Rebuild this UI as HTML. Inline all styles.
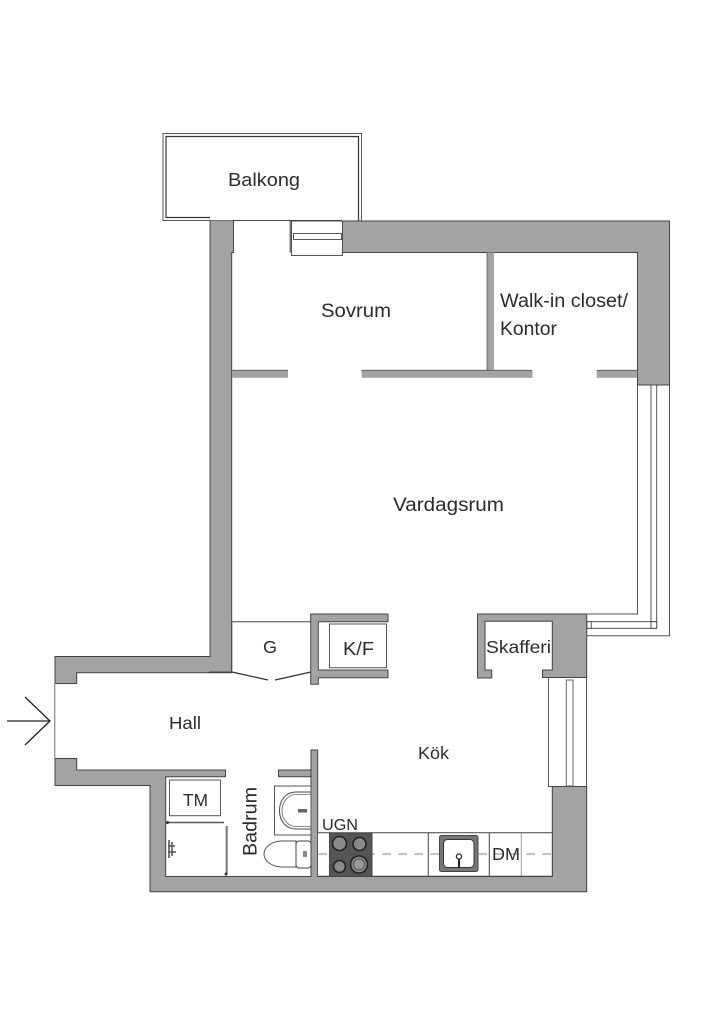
<!DOCTYPE html>
<html><head><meta charset="utf-8"><style>html,body{margin:0;padding:0;background:#fff}svg{display:block}text{font-family:"Liberation Sans",sans-serif;fill:#2c2c2c}</style></head><body>
<svg xmlns="http://www.w3.org/2000/svg" width="724" height="1024" viewBox="0 0 724 1024">
<rect width="724" height="1024" fill="#fff"/>
<!-- balcony -->
<path d="M210 220.5H163V133.5H361.5V221" fill="none" stroke="#555" stroke-width="1"/>
<path d="M210 217.5H166V136.5H358.5V221" fill="none" stroke="#333" stroke-width="1.2"/>
<path d="M210 220.5H342" fill="none" stroke="#444" stroke-width="1"/>
<!-- walls -->
<g fill="#a3a3a3" stroke="#444" stroke-width="1">
<path d="M210 220.5H233.5V252H231.7V672H209.5V656.5H55V683.5H76.7V672.7H209.5V656.5H210Z" stroke="none"/>
<path d="M210 220.5V656.5H55V683.5H76.7V672.7H231.7V252.5H233.5V220.5"/>
<path d="M342.5 221H669.5V385H637.5V252.5H342.5Z"/>
<path d="M55 758.5H76.7V770H225.5V776.7H165.7V876.5H311V750H317.7V876.5H552.3V786.5H586.7V891.7H150V785.5H55Z"/>
<path d="M278.5 770H311V776.7H278.5Z"/>
<path d="M477.5 614H586.7V677.5H542.5V670H552.3V621.3H485V670H491.7V678H477.5Z"/>
<path d="M310.7 614H388V621.7H318.3V670H388V677.7H318.3V684.3H310.7Z"/>
</g>
<rect x="211" y="221" width="20" height="451" fill="#a3a3a3"/>
<path d="M231.7 621V672H209" fill="none" stroke="#444"/>
<!-- partitions -->
<g fill="#a3a3a3" stroke="none">
<rect x="232" y="370.3" width="56" height="7.5"/>
<rect x="361.5" y="370.3" width="171" height="7.5"/>
<rect x="596.7" y="370.3" width="40.5" height="7.5"/>
<rect x="487" y="252.5" width="7" height="118"/>
</g>
<path d="M487 253V370M232 370.3H288M361.5 370.3H532M597 370.3H637" stroke="#555" stroke-width="0.8" fill="none"/>
<!-- top window -->
<rect x="289.5" y="221" width="2.5" height="31.5" fill="#777"/>
<rect x="291.5" y="221" width="51" height="34.5" fill="#fff" stroke="#444" stroke-width="0.9"/>
<rect x="293.5" y="233.5" width="48" height="6" fill="#fff" stroke="#444" stroke-width="0.9"/>
<!-- right window -->
<path d="M637.5 385V614H586.7M669.5 385V635.7H586.7" fill="none" stroke="#555" stroke-width="1"/>
<rect x="651" y="385" width="5.7" height="243" fill="#fff" stroke="#444" stroke-width="0.9"/>
<rect x="587" y="621.7" width="69.7" height="6.6" fill="#fff" stroke="#444" stroke-width="0.9"/>
<rect x="651" y="621.7" width="5.7" height="6.6" fill="#fff" stroke="#444" stroke-width="0.9"/>
<rect x="587" y="621.7" width="4.2" height="6.6" fill="#fff" stroke="#444" stroke-width="0.9"/>
<!-- kitchen window -->
<path d="M548.5 677.5V786.5H552.3M586.5 677.5V786.5" fill="none" stroke="#555" stroke-width="1"/>
<rect x="566.3" y="680" width="6.7" height="106" fill="#fff" stroke="#555" stroke-width="0.9"/>
<!-- closet -->
<path d="M232 621.7H311" stroke="#444" stroke-width="1"/>
<path d="M232 672L268 680M275 680L311 672" stroke="#333" stroke-width="1.2" fill="none"/>
<rect x="329.5" y="624" width="57" height="43.7" fill="#fff" stroke="#555" stroke-width="1"/>
<!-- entrance -->
<path d="M54.7 683V758.5" stroke="#888" stroke-width="1.2"/>
<path d="M7 721H50M25 697L50 721L25 745" stroke="#222" stroke-width="1.3" fill="none"/>
<!-- bath -->
<rect x="169.5" y="780" width="51" height="35.7" fill="#fff" stroke="#555" stroke-width="1"/>
<path d="M167 822.5H224" stroke="#555" stroke-width="1.6"/>
<path d="M226.7 826V874" stroke="#777" stroke-width="2"/>
<circle cx="167.5" cy="822.5" r="1.5" fill="#333"/><circle cx="226" cy="874" r="1.5" fill="#333"/>
<path d="M169 840V858M172 842V856M168 846H175M168 852H176" stroke="#555" stroke-width="1.6" fill="none"/>
<rect x="274.5" y="786" width="36.5" height="49" fill="#fff" stroke="#555" stroke-width="1"/>
<path d="M310.5 792H296C286 792 279.5 800 279.5 810.5S286 829 296 829H310.5" fill="#fff" stroke="#444" stroke-width="1"/>
<path d="M310.5 794.5H296C288 794.5 282 802 282 810.5S288 826.5 296 826.5H310.5" fill="none" stroke="#666" stroke-width="0.8"/>
<rect x="298" y="809" width="9" height="3.5" fill="#666"/>
<path d="M296 841H282C272 841 264 847 264 854S272 867 282 867H296Z" fill="#fff" stroke="#555" stroke-width="1"/>
<rect x="296" y="841" width="15" height="27" rx="3" fill="#fff" stroke="#444" stroke-width="1"/>
<rect x="303" y="851" width="4" height="6" fill="#888"/>
<!-- kitchen -->
<rect x="318" y="833" width="234" height="43.2" fill="#fff"/>
<path d="M317.7 832.7H552.3V876.2" stroke="#444" stroke-width="1" fill="none"/>
<path d="M318 854H552" stroke="#888" stroke-width="1" stroke-dasharray="9 7" fill="none"/>
<path d="M428.3 833V876M489.3 833V876" stroke="#444" stroke-width="1"/>
<path d="M521.3 833V876" stroke="#999" stroke-width="1"/>
<path d="M318 876.3H552.3" stroke="#444" stroke-width="1"/>
<rect x="329.5" y="833" width="42.5" height="43.5" fill="#555" stroke="#444"/>
<g stroke="#222" stroke-width="1.6" fill="#8a8a8a">
<circle cx="339.5" cy="843.5" r="7"/><circle cx="359.5" cy="844" r="6.5"/><circle cx="339.5" cy="866.5" r="6"/><circle cx="359" cy="864.5" r="8.5"/>
</g>
<circle cx="359" cy="864.5" r="5.5" fill="#999" stroke="#555"/>
<rect x="439.5" y="835.5" width="38.5" height="36" rx="2" fill="#777" stroke="#444"/>
<rect x="443.5" y="839.5" width="30.5" height="28" rx="4" fill="#fff" stroke="#333" stroke-width="1"/>
<path d="M459 856V868" stroke="#222" stroke-width="2"/>
<circle cx="459" cy="856.5" r="2.6" fill="#fff" stroke="#222" stroke-width="1.3"/>
<!-- labels -->
<text x="228" y="186" font-size="18.5" textLength="72" lengthAdjust="spacingAndGlyphs">Balkong</text>
<text x="321" y="317" font-size="19" textLength="70" lengthAdjust="spacingAndGlyphs">Sovrum</text>
<text x="500" y="307" font-size="19" textLength="128" lengthAdjust="spacingAndGlyphs">Walk-in closet/</text>
<text x="500" y="335" font-size="19" textLength="57" lengthAdjust="spacingAndGlyphs">Kontor</text>
<text x="393" y="511" font-size="19" textLength="111" lengthAdjust="spacingAndGlyphs">Vardagsrum</text>
<text x="169" y="729" font-size="17.5" textLength="32" lengthAdjust="spacingAndGlyphs">Hall</text>
<text x="418" y="759" font-size="17.5" textLength="31" lengthAdjust="spacingAndGlyphs">Kök</text>
<text x="263" y="653" font-size="17.5" textLength="14" lengthAdjust="spacingAndGlyphs">G</text>
<text x="343" y="655" font-size="18" textLength="31" lengthAdjust="spacingAndGlyphs">K/F</text>
<text x="486" y="653" font-size="17.5" textLength="65" lengthAdjust="spacingAndGlyphs">Skafferi</text>
<text x="183" y="806" font-size="17.5" textLength="25" lengthAdjust="spacingAndGlyphs">TM</text>
<text transform="translate(256.5 856) rotate(-90)" font-size="19" textLength="69" lengthAdjust="spacingAndGlyphs">Badrum</text>
<text x="322" y="830" font-size="15.5" textLength="36" lengthAdjust="spacingAndGlyphs">UGN</text>
<text x="492" y="860" font-size="17.5" textLength="28" lengthAdjust="spacingAndGlyphs">DM</text>
</svg>
</body></html>
